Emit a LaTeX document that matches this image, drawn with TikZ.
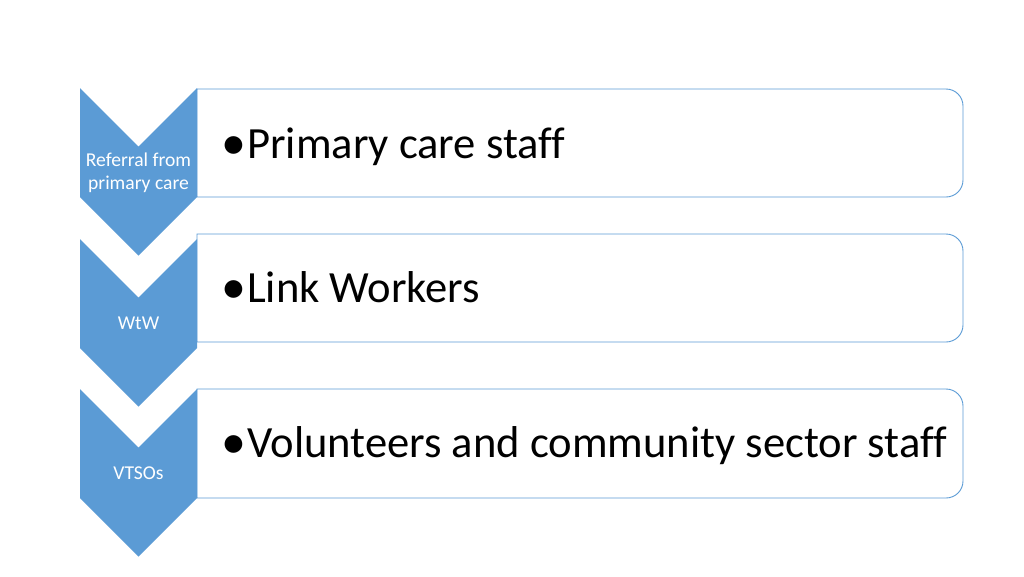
\documentclass[tikz,border=0pt]{standalone}
\usepackage{fontspec}
\setmainfont{Carlito}[Ligatures=NoCommon]
\definecolor{chevblue}{HTML}{5B9BD5}
\newcommand{\itembullet}{\makebox[24pt][l]{\hspace*{-2pt}\raisebox{-1.5pt}{\scalebox{1.12}{\textbullet}}}}
\tikzset{
  chevron/.style={fill=chevblue, draw=none},
  listbox/.style={draw=chevblue, line width=0.9pt, fill=white},
  chevtext/.style={text=white, align=center, inner sep=0pt, font=\fontsize{19.6}{23.4}\selectfont},
  itemtext/.style={anchor=base west, inner sep=0pt, font=\fontsize{44.6}{52}\selectfont}
}
\begin{document}
\begin{tikzpicture}[x=1pt, y=-1pt]
		\useasboundingbox (0,0) rectangle (1024,576);
		% boxes, right corners rounded
		\filldraw[listbox] (197,89) -- (946,89) arc[start angle=-90, end angle=0, radius=17]
		-- (963,180) arc[start angle=0, end angle=90, radius=17] -- (197,197) -- cycle;
		\filldraw[listbox] (197,234) -- (946,234) arc[start angle=-90, end angle=0, radius=17]
		-- (963,325) arc[start angle=0, end angle=90, radius=17] -- (197,342) -- cycle;
		\filldraw[listbox] (197,389) -- (946,389) arc[start angle=-90, end angle=0, radius=17]
		-- (963,481) arc[start angle=0, end angle=90, radius=17] -- (197,498) -- cycle;
		
		% chevrons
		\fill[chevron] (80,88) -- (138.5,146.5) -- (197,88) -- (197,197) -- (138.5,255.5) -- (80,197) -- cycle;
		\fill[chevron] (80,239) -- (138.5,297.5) -- (197,239) -- (197,348) -- (138.5,406.5) -- (80,348) -- cycle;
		\fill[chevron] (80,389) -- (138.5,447.5) -- (197,389) -- (197,498) -- (138.5,556.5) -- (80,498) -- cycle;
		
		\node[chevtext] (referral) at (138.5,173) {Referral from\\primary care};
		\node[chevtext] (wtw) at (138.5,323) {WtW};
		\node[chevtext] (vtsos) at (138.5,473) {VTSOs};
		
		\node[itemtext] (primary) at (223,158) {\itembullet Primary care staff};
		\node[itemtext] (link) at (223,302) {\itembullet Link Workers};
		\node[itemtext] (volunteers) at (223,457) {\itembullet Volunteers and community sector staff};
\end{tikzpicture}
\end{document}
